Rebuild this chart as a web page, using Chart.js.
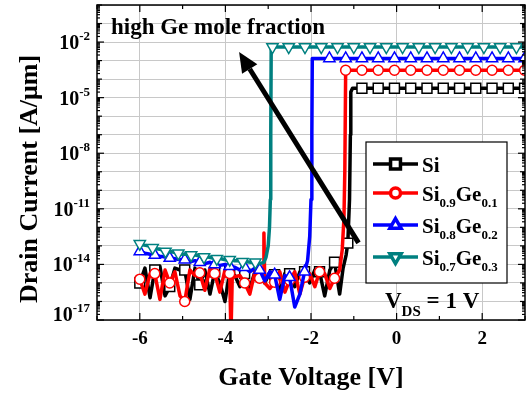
<!DOCTYPE html>
<html>
<head>
<meta charset="utf-8">
<script src="https://cdn.jsdelivr.net/npm/chart.js@4.4.1/dist/chart.umd.min.js"></script>
<style>
html,body{margin:0;padding:0;background:#fff;}
#wrap{width:526px;height:398px;}
</style>
</head>
<body>
<div id="wrap"><canvas id="c" width="526" height="398"></canvas></div>
<script>
// Id-Vg transfer curves, VDS = 1 V
const seriesNames = ['Si', 'Si0.9Ge0.1', 'Si0.8Ge0.2', 'Si0.7Ge0.3'];

// Si (black, squares)
const siVg = [-6.00,-5.88,-5.76,-5.65,-5.53,-5.41,-5.30,-5.18,-5.06,-4.95,-4.83,-4.71,-4.60,-4.48,-4.36,-4.25,-4.13,-4.01,-3.90,-3.78,-3.66,-3.55,-3.43,-3.31,-3.20,-3.08,-2.96,-2.85,-2.73,-2.61,-2.50,-2.38,-2.26,-2.15,-2.03,-1.91,-1.80,-1.68,-1.56,-1.45,-1.33,
  -1.25,-1.18,-1.14,-1.10,-1.08,-1.07,-1.03,
  -0.81,-0.43,-0.05,0.33,0.71,1.09,1.47,1.85,2.23,2.61,2.99,3.00];
const siId = [1e-15,6.3e-15,1.6e-16,5e-15,7.9e-15,2e-16,6.3e-16,6.3e-15,5e-15,5e-15,1.3e-16,6.3e-15,7.9e-16,5e-15,2.5e-16,4e-15,1e-15,1e-16,4e-15,2.5e-15,6.3e-16,3.2e-15,5e-16,4e-15,2.5e-15,1e-15,4e-15,2.8e-15,3.2e-16,3.2e-15,3.2e-15,6.3e-16,4e-15,4e-15,1e-15,5e-15,4e-15,2e-16,5e-15,1.3e-14,2.5e-16,
  6.3e-15,3.2e-14,1.4e-13,3.2e-11,1e-7,2e-5,3.2e-5,
  3.2e-5,3.2e-5,3.2e-5,3.2e-5,3.2e-5,3.2e-5,3.2e-5,3.2e-5,3.2e-5,3.2e-5,3.2e-5,3.2e-5];
const siMk = [-6.00,-5.65,-5.30,-4.95,-4.60,-4.25,-3.90,-3.55,-3.20,-2.85,-2.50,-2.15,-1.80,-1.45,-1.14,
  -0.81,-0.43,-0.05,0.33,0.71,1.09,1.47,1.85,2.23,2.61,2.99];

// Si0.9Ge0.1 (red, circles)
const g1Vg = [-6.00,-5.88,-5.76,-5.65,-5.53,-5.41,-5.30,-5.18,-5.06,-4.95,-4.83,-4.71,-4.60,-4.48,-4.36,-4.25,-4.13,-4.01,-3.90,-3.87,-3.84,-3.66,-3.55,-3.43,-3.31,-3.20,-3.12,-3.10,-3.08,-2.96,-2.85,-2.73,-2.61,-2.50,-2.38,-2.26,-2.15,-2.03,-1.91,-1.80,-1.68,-1.56,-1.45,-1.33,
  -1.27,-1.23,-1.21,-1.19,
  -0.81,-0.43,-0.05,0.33,0.71,1.09,1.47,1.85,2.23,2.61,2.99,3.00];
const g1Id = [1.6e-15,2.5e-16,3.2e-15,3.2e-15,1.3e-16,5e-15,1e-15,4e-15,2e-16,1e-16,5e-15,2.5e-15,3.5e-15,4e-16,6.3e-15,3.2e-15,3.2e-16,5e-15,3.2e-15,1.6e-18,2e-15,2.5e-15,1e-15,2.5e-16,4e-15,1.8e-15,2e-15,5e-13,1e-15,5e-16,1.1e-15,4e-15,3.2e-16,1.4e-15,4e-15,2.5e-16,2e-15,3.2e-15,6.3e-16,4e-15,3.2e-15,5e-16,1.8e-15,5e-15,
  6.3e-14,3.2e-12,1e-9,3e-4,
  3e-4,3e-4,3e-4,3e-4,3e-4,3e-4,3e-4,3e-4,3e-4,3e-4,3e-4,3e-4];
const g1Mk = [-6.00,-5.65,-5.30,-4.95,-4.60,-4.25,-3.90,-3.55,-3.20,-2.85,-2.50,-2.15,-1.80,-1.45,-1.19,
  -0.81,-0.43,-0.05,0.33,0.71,1.09,1.47,1.85,2.23,2.61,2.99];

// Si0.8Ge0.2 (blue, up triangles)
const g2Vg = [-6.00,-5.88,-5.76,-5.65,-5.53,-5.41,-5.30,-5.18,-5.06,-4.95,-4.83,-4.71,-4.60,-4.48,-4.36,-4.25,-4.13,-4.01,-3.90,-3.78,-3.66,-3.55,-3.43,-3.31,-3.20,-3.08,-2.96,-2.85,-2.73,-2.61,-2.50,-2.38,-2.26,-2.15,
  -2.08,-2.03,-2.00,-1.98,-1.97,
  -1.57,-1.19,-0.81,-0.43,-0.05,0.33,0.71,1.09,1.47,1.85,2.23,2.61,2.99,3.00];
const g2Id = [5e-14,4e-14,3.5e-14,3.2e-14,2.8e-14,2.5e-14,2.2e-14,2e-14,1.8e-14,1.8e-14,1.4e-14,1.6e-14,1.3e-14,1.1e-14,1.3e-14,1e-14,8.9e-15,1e-14,7.9e-15,7.1e-15,5e-15,7.1e-15,4e-15,6.3e-15,5e-15,1.3e-15,4e-15,2.8e-15,1.3e-16,2.5e-15,2e-15,5e-17,2.5e-16,4e-15,
  1.6e-14,3.2e-13,3.2e-11,1e-7,1.3e-3,
  1.3e-3,1.3e-3,1.3e-3,1.3e-3,1.3e-3,1.3e-3,1.3e-3,1.3e-3,1.3e-3,1.3e-3,1.3e-3,1.3e-3,1.3e-3,1.3e-3];
const g2Mk = [-6.00,-5.65,-5.30,-4.95,-4.60,-4.25,-3.90,-3.55,-3.20,-2.85,-2.50,-2.15,
  -1.57,-1.19,-0.81,-0.43,-0.05,0.33,0.71,1.09,1.47,1.85,2.23,2.61,2.99];

// Si0.7Ge0.3 (teal, down triangles)
const g3Vg = [-6.0,-5.9,-5.8,-5.7,-5.6,-5.5,-5.4,-5.3,-5.2,-5.1,-5.0,-4.9,-4.8,-4.7,-4.6,-4.5,-4.4,-4.3,-4.2,-4.1,-4.0,-3.9,-3.8,-3.7,-3.6,-3.5,-3.4,-3.3,-3.2,-3.1,
  -3.05,-3.00,-2.97,-2.95,-2.94,-2.93,
  -2.90,-2.52,-2.14,-1.76,-1.38,-1.00,-0.62,-0.24,0.14,0.52,0.90,1.28,1.66,2.04,2.42,2.80,3.00];
const g3Id = [1.3e-13,1.1e-13,1e-13,7.9e-14,7e-14,6.3e-14,5e-14,5e-14,4.5e-14,4e-14,3.5e-14,3.5e-14,3.2e-14,3.2e-14,2.8e-14,2.5e-14,2.5e-14,2.2e-14,2e-14,2e-14,1.8e-14,1.8e-14,1.6e-14,1.6e-14,1.4e-14,1.4e-14,1.3e-14,1.3e-14,1.1e-14,1.3e-14,
  2.5e-14,1e-13,1e-12,3.2e-11,1e-7,5.4e-3,
  5.4e-3,5.4e-3,5.4e-3,5.4e-3,5.4e-3,5.4e-3,5.4e-3,5.4e-3,5.4e-3,5.4e-3,5.4e-3,5.4e-3,5.4e-3,5.4e-3,5.4e-3,5.4e-3,5.4e-3];
const g3Mk = [-6.0,-5.7,-5.4,-5.1,-4.8,-4.5,-4.2,-3.9,-3.6,-3.3,
  -2.90,-2.52,-2.14,-1.76,-1.38,-1.00,-0.62,-0.24,0.14,0.52,0.90,1.28,1.66,2.04,2.42,2.80];

// axes
const xMajor = [-6, -4, -2, 0, 2];
const xMinor = [-7, -5, -3, -1, 1, 3];
const yDecades = [-17,-16,-15,-14,-13,-12,-11,-10,-9,-8,-7,-6,-5,-4,-3,-2,-1,0];
const yLabelExp = [-2, -5, -8, -11, -14, -17];

// annotations
const arrowFrom = [-0.89, 1.45e-13];
const arrowTo = [-3.68, 2.9e-3];

const colors = ['#000000', '#ff0000', '#0000ff', '#008080'];
const marks = [
  {style:'rect', r:7, rot:0},
  {style:'circle', r:5, rot:0},
  {style:'triangle', r:6.5, rot:0},
  {style:'triangle', r:6.5, rot:180}
];
const allVg = [siVg, g1Vg, g2Vg, g3Vg];
const allId = [siId, g1Id, g2Id, g3Id];
const allMk = [siMk, g1Mk, g2Mk, g3Mk];

const SERIF = '"Liberation Serif", "Times New Roman", serif';
function isMark(list, x){ return list.some(m => Math.abs(m - x) < 1e-6); }

// text with subscripts/superscripts: parts = [[base, small], ...]
function richText(ctx, parts, x, y, bigFont, smallFont, dy){
  let cx = x;
  parts.forEach(([t, s]) => {
    ctx.font = bigFont; ctx.fillText(t, cx, y); cx += ctx.measureText(t).width;
    if(s){ ctx.font = smallFont; ctx.fillText(s, cx, y + dy); cx += ctx.measureText(s).width; }
  });
  return cx;
}
function nameParts(n){ const out=[]; n.replace(/([A-Z][a-z]?)([\d.]*)/g, (_, a, b) => { out.push([a, b]); }); return out; }

const decor = {
  id: 'decor',
  afterDraw(chart){
    const {ctx, chartArea: a, scales: {x, y}} = chart;
    ctx.save();
    ctx.strokeStyle = '#000'; ctx.fillStyle = '#000';

    // arrow
    const x0 = x.getPixelForValue(arrowFrom[0]), y0 = y.getPixelForValue(arrowFrom[1]);
    const x1 = x.getPixelForValue(arrowTo[0]), y1 = y.getPixelForValue(arrowTo[1]);
    const ang = Math.atan2(y1 - y0, x1 - x0), hl = 20, hw = 9;
    const bx = x1 - Math.cos(ang) * hl, by = y1 - Math.sin(ang) * hl;
    ctx.lineWidth = 5; ctx.lineCap = 'butt';
    ctx.beginPath(); ctx.moveTo(x0, y0); ctx.lineTo(bx, by); ctx.stroke();
    ctx.beginPath(); ctx.moveTo(x1, y1);
    ctx.lineTo(bx + Math.sin(ang) * hw, by - Math.cos(ang) * hw);
    ctx.lineTo(bx - Math.sin(ang) * hw, by + Math.cos(ang) * hw);
    ctx.closePath(); ctx.fill();

    // frame
    ctx.lineWidth = 1.5;
    ctx.strokeRect(a.left, a.top, a.right - a.left, a.bottom - a.top);

    // ticks (inward, mirrored)
    ctx.lineWidth = 1.2;
    const tick = (x0, y0, x1, y1) => { ctx.beginPath(); ctx.moveTo(x0, y0); ctx.lineTo(x1, y1); ctx.stroke(); };
    xMajor.forEach(v => { const p = x.getPixelForValue(v); tick(p, a.bottom, p, a.bottom - 7); tick(p, a.top, p, a.top + 7); });
    xMinor.forEach(v => { const p = x.getPixelForValue(v); tick(p, a.bottom, p, a.bottom - 4); tick(p, a.top, p, a.top + 4); });
    yDecades.forEach(e => {
      const p = y.getPixelForValue(Math.pow(10, e));
      const len = yLabelExp.includes(e) ? 7 : 5;
      tick(a.left, p, a.left + len, p); tick(a.right, p, a.right - len, p);
      if(e < 0){
        for(let m = 2; m < 10; m++){
          const q = y.getPixelForValue(m * Math.pow(10, e));
          tick(a.left, q, a.left + 3, q); tick(a.right, q, a.right - 3, q);
        }
      }
    });

    // tick labels
    ctx.textBaseline = 'alphabetic';
    ctx.font = 'bold 19px ' + SERIF; ctx.textAlign = 'center';
    xMajor.forEach(v => ctx.fillText(String(v), x.getPixelForValue(v), a.bottom + 24));
    ctx.textAlign = 'left';
    yLabelExp.forEach(e => {
      const p = Math.min(y.getPixelForValue(Math.pow(10, e)), a.bottom - 6);
      ctx.font = 'bold 13px ' + SERIF;
      const ew = ctx.measureText(String(e)).width;
      ctx.font = 'bold 20px ' + SERIF;
      const bw = ctx.measureText('10').width;
      const right = 90;
      ctx.fillText('10', right - ew - bw, p + 7);
      ctx.font = 'bold 13px ' + SERIF;
      ctx.fillText(String(e), right - ew, p - 2);
    });

    // axis titles
    ctx.font = 'bold 26px ' + SERIF; ctx.textAlign = 'center';
    ctx.fillText('Gate Voltage [V]', (a.left + a.right) / 2, 385);
    ctx.save();
    ctx.translate(37, 179); ctx.rotate(-Math.PI / 2);
    ctx.fillText('Drain Current [A/\u03bcm]', 0, 0);
    ctx.restore();

    // annotation text
    ctx.textAlign = 'left';
    ctx.font = 'bold 23px ' + SERIF;
    ctx.fillText('high Ge mole fraction', 111, 34);
    richText(ctx, [['V', 'DS'], [' = 1 V', '']], 385, 308, 'bold 23px ' + SERIF, 'bold 15px ' + SERIF, 8);

    // legend
    const lx = 366, ly = 142, lw = 141, lh = 141;
    ctx.fillStyle = '#fff'; ctx.fillRect(lx, ly, lw, lh);
    ctx.lineWidth = 1.2; ctx.strokeStyle = '#000'; ctx.strokeRect(lx, ly, lw, lh);
    const rows = [164, 193, 225, 257];
    seriesNames.forEach((n, k) => {
      const ry = rows[k];
      ctx.strokeStyle = colors[k]; ctx.lineWidth = 3.5;
      ctx.beginPath(); ctx.moveTo(373, ry); ctx.lineTo(418, ry); ctx.stroke();
      ctx.fillStyle = '#fff'; ctx.strokeStyle = colors[k];
      Chart.helpers.drawPoint(ctx, {pointStyle: marks[k].style, radius: marks[k].r, rotation: marks[k].rot, borderWidth: 1.5}, 395.5, ry);
      ctx.fillStyle = '#000';
      richText(ctx, nameParts(n), 422, ry + 8, 'bold 21px ' + SERIF, 'bold 13px ' + SERIF, 6);
    });
    ctx.restore();
  }
};

new Chart(document.getElementById('c'), {
  type: 'line',
  data: {
    datasets: seriesNames.map((n, k) => ({
      label: n,
      data: allVg[k].map((v, i) => ({x: v, y: allId[k][i]})),
      borderColor: colors[k],
      borderWidth: 3.5,
      borderJoinStyle: 'round',
      backgroundColor: '#fff',
      fill: false,
      tension: 0,
      pointStyle: marks[k].style,
      pointRotation: marks[k].rot,
      pointBorderColor: colors[k],
      pointBackgroundColor: '#fff',
      pointBorderWidth: 1.5,
      pointRadius: c => (c.raw && isMark(allMk[k], c.raw.x)) ? marks[k].r : 0,
      pointHoverRadius: 0,
      order: 3 - k
    }))
  },
  options: {
    responsive: false,
    animation: false,
    devicePixelRatio: 1,
    events: [],
    layout: {autoPadding: false, padding: {left: 97, right: 1, top: 5, bottom: 78}},
    plugins: {legend: {display: false}, tooltip: {enabled: false}},
    scales: {
      x: {
        type: 'linear', min: -7, max: 3,
        afterBuildTicks: s => { s.ticks = xMajor.map(v => ({value: v})); },
        afterFit: s => { s.height = 0; },
        ticks: {display: false},
        grid: {color: '#c8c8c8', lineWidth: 1, drawTicks: false},
        border: {display: false}
      },
      y: {
        type: 'logarithmic', min: 1e-17, max: 1,
        afterBuildTicks: s => { s.ticks = yDecades.map(e => ({value: Math.pow(10, e)})); },
        afterFit: s => { s.width = 0; },
        ticks: {display: false},
        grid: {color: '#c8c8c8', lineWidth: 1, drawTicks: false},
        border: {display: false}
      }
    }
  },
  plugins: [decor]
});
</script>
</body>
</html>
